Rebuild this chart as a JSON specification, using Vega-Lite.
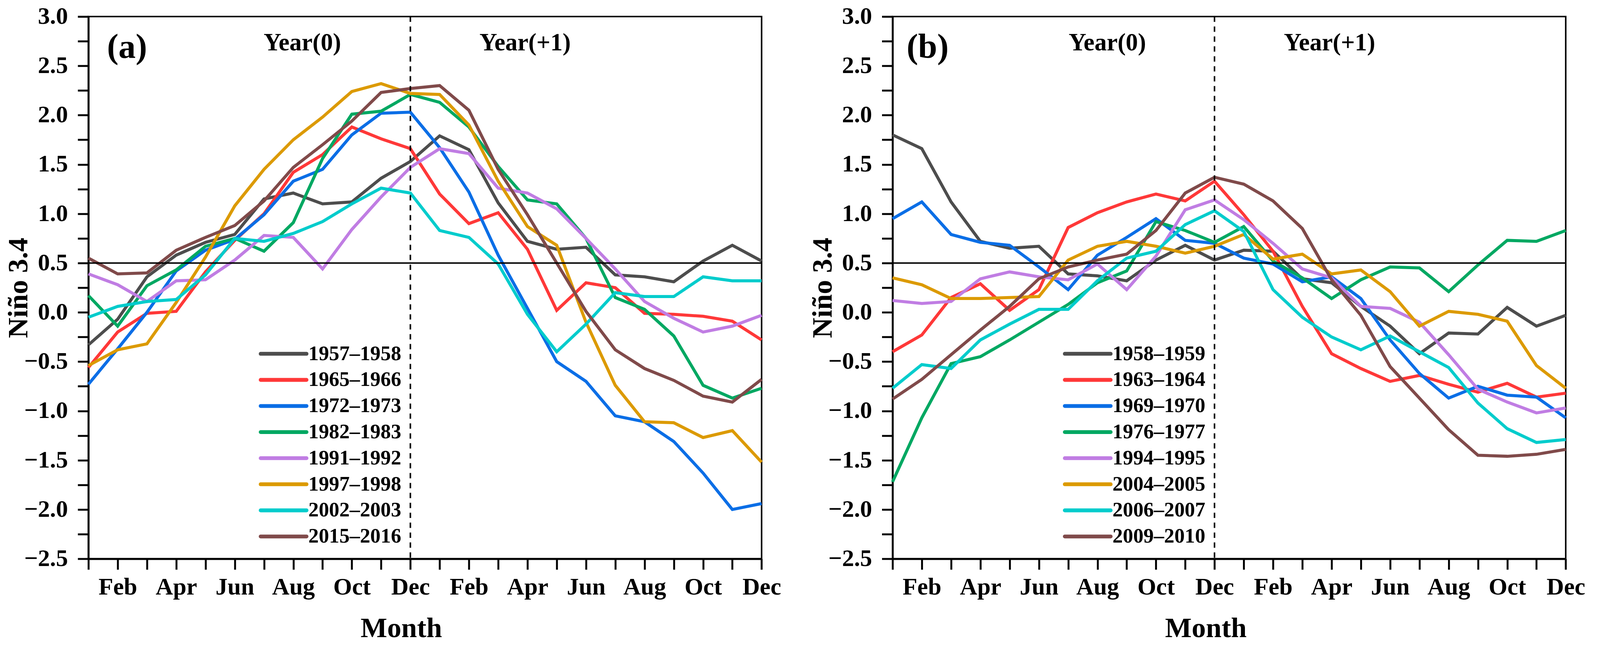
{
  "$schema": "https://vega.github.io/schema/vega-lite/v6.json",
  "background": "white",
  "autosize": {"type": "none"},
  "padding": {"left": 226.3, "top": 42.4, "right": 3866.7, "bottom": 1606.6},
  "spacing": 334.6,
  "bounds": "flush",
  "config": {
    "view": {"stroke": "black", "strokeWidth": 3.9},
    "font": "Liberation Serif",
    "axis": {
      "grid": false,
      "domainColor": "black", "domainWidth": 4.9,
      "tickColor": "black", "tickWidth": 4.9, "tickSize": 27.4,
      "labelFont": "Liberation Serif", "labelFontWeight": "bold", "labelFontSize": 61.6, "labelColor": "black",
      "labelOverlap": false, "labelFlush": false, "labelBound": false,
      "titleFont": "Liberation Serif", "titleFontWeight": "bold", "titleFontSize": 72.3, "titleColor": "black"
    }
  },
  "datasets": {
    "a": [
      {"period":"1957–1958","month":1,"nino":-0.33},{"period":"1957–1958","month":2,"nino":-0.07},{"period":"1957–1958","month":3,"nino":0.36},{"period":"1957–1958","month":4,"nino":0.58},{"period":"1957–1958","month":5,"nino":0.71},{"period":"1957–1958","month":6,"nino":0.79},{"period":"1957–1958","month":7,"nino":1.15},{"period":"1957–1958","month":8,"nino":1.21},{"period":"1957–1958","month":9,"nino":1.10},{"period":"1957–1958","month":10,"nino":1.12},{"period":"1957–1958","month":11,"nino":1.36},{"period":"1957–1958","month":12,"nino":1.53},{"period":"1957–1958","month":13,"nino":1.79},{"period":"1957–1958","month":14,"nino":1.65},{"period":"1957–1958","month":15,"nino":1.11},{"period":"1957–1958","month":16,"nino":0.72},{"period":"1957–1958","month":17,"nino":0.64},{"period":"1957–1958","month":18,"nino":0.66},{"period":"1957–1958","month":19,"nino":0.38},{"period":"1957–1958","month":20,"nino":0.36},{"period":"1957–1958","month":21,"nino":0.31},{"period":"1957–1958","month":22,"nino":0.52},{"period":"1957–1958","month":23,"nino":0.68},{"period":"1957–1958","month":24,"nino":0.52},
      {"period":"1965–1966","month":1,"nino":-0.56},{"period":"1965–1966","month":2,"nino":-0.20},{"period":"1965–1966","month":3,"nino":-0.01},{"period":"1965–1966","month":4,"nino":0.01},{"period":"1965–1966","month":5,"nino":0.41},{"period":"1965–1966","month":6,"nino":0.73},{"period":"1965–1966","month":7,"nino":1.00},{"period":"1965–1966","month":8,"nino":1.42},{"period":"1965–1966","month":9,"nino":1.60},{"period":"1965–1966","month":10,"nino":1.88},{"period":"1965–1966","month":11,"nino":1.76},{"period":"1965–1966","month":12,"nino":1.66},{"period":"1965–1966","month":13,"nino":1.20},{"period":"1965–1966","month":14,"nino":0.90},{"period":"1965–1966","month":15,"nino":1.01},{"period":"1965–1966","month":16,"nino":0.64},{"period":"1965–1966","month":17,"nino":0.02},{"period":"1965–1966","month":18,"nino":0.30},{"period":"1965–1966","month":19,"nino":0.25},{"period":"1965–1966","month":20,"nino":-0.01},{"period":"1965–1966","month":21,"nino":-0.02},{"period":"1965–1966","month":22,"nino":-0.04},{"period":"1965–1966","month":23,"nino":-0.09},{"period":"1965–1966","month":24,"nino":-0.28},
      {"period":"1972–1973","month":1,"nino":-0.73},{"period":"1972–1973","month":2,"nino":-0.37},{"period":"1972–1973","month":3,"nino":0.00},{"period":"1972–1973","month":4,"nino":0.42},{"period":"1972–1973","month":5,"nino":0.63},{"period":"1972–1973","month":6,"nino":0.74},{"period":"1972–1973","month":7,"nino":0.99},{"period":"1972–1973","month":8,"nino":1.33},{"period":"1972–1973","month":9,"nino":1.45},{"period":"1972–1973","month":10,"nino":1.80},{"period":"1972–1973","month":11,"nino":2.02},{"period":"1972–1973","month":12,"nino":2.03},{"period":"1972–1973","month":13,"nino":1.67},{"period":"1972–1973","month":14,"nino":1.22},{"period":"1972–1973","month":15,"nino":0.58},{"period":"1972–1973","month":16,"nino":0.04},{"period":"1972–1973","month":17,"nino":-0.50},{"period":"1972–1973","month":18,"nino":-0.70},{"period":"1972–1973","month":19,"nino":-1.05},{"period":"1972–1973","month":20,"nino":-1.11},{"period":"1972–1973","month":21,"nino":-1.31},{"period":"1972–1973","month":22,"nino":-1.63},{"period":"1972–1973","month":23,"nino":-2.00},{"period":"1972–1973","month":24,"nino":-1.94},
      {"period":"1982–1983","month":1,"nino":0.17},{"period":"1982–1983","month":2,"nino":-0.14},{"period":"1982–1983","month":3,"nino":0.27},{"period":"1982–1983","month":4,"nino":0.43},{"period":"1982–1983","month":5,"nino":0.67},{"period":"1982–1983","month":6,"nino":0.75},{"period":"1982–1983","month":7,"nino":0.62},{"period":"1982–1983","month":8,"nino":0.91},{"period":"1982–1983","month":9,"nino":1.56},{"period":"1982–1983","month":10,"nino":2.01},{"period":"1982–1983","month":11,"nino":2.04},{"period":"1982–1983","month":12,"nino":2.21},{"period":"1982–1983","month":13,"nino":2.13},{"period":"1982–1983","month":14,"nino":1.88},{"period":"1982–1983","month":15,"nino":1.48},{"period":"1982–1983","month":16,"nino":1.14},{"period":"1982–1983","month":17,"nino":1.10},{"period":"1982–1983","month":18,"nino":0.75},{"period":"1982–1983","month":19,"nino":0.15},{"period":"1982–1983","month":20,"nino":0.03},{"period":"1982–1983","month":21,"nino":-0.24},{"period":"1982–1983","month":22,"nino":-0.74},{"period":"1982–1983","month":23,"nino":-0.87},{"period":"1982–1983","month":24,"nino":-0.77},
      {"period":"1991–1992","month":1,"nino":0.39},{"period":"1991–1992","month":2,"nino":0.28},{"period":"1991–1992","month":3,"nino":0.11},{"period":"1991–1992","month":4,"nino":0.32},{"period":"1991–1992","month":5,"nino":0.33},{"period":"1991–1992","month":6,"nino":0.53},{"period":"1991–1992","month":7,"nino":0.78},{"period":"1991–1992","month":8,"nino":0.76},{"period":"1991–1992","month":9,"nino":0.44},{"period":"1991–1992","month":10,"nino":0.84},{"period":"1991–1992","month":11,"nino":1.17},{"period":"1991–1992","month":12,"nino":1.47},{"period":"1991–1992","month":13,"nino":1.66},{"period":"1991–1992","month":14,"nino":1.61},{"period":"1991–1992","month":15,"nino":1.26},{"period":"1991–1992","month":16,"nino":1.21},{"period":"1991–1992","month":17,"nino":1.05},{"period":"1991–1992","month":18,"nino":0.75},{"period":"1991–1992","month":19,"nino":0.44},{"period":"1991–1992","month":20,"nino":0.11},{"period":"1991–1992","month":21,"nino":-0.06},{"period":"1991–1992","month":22,"nino":-0.20},{"period":"1991–1992","month":23,"nino":-0.14},{"period":"1991–1992","month":24,"nino":-0.03},
      {"period":"1997–1998","month":1,"nino":-0.54},{"period":"1997–1998","month":2,"nino":-0.38},{"period":"1997–1998","month":3,"nino":-0.32},{"period":"1997–1998","month":4,"nino":0.10},{"period":"1997–1998","month":5,"nino":0.56},{"period":"1997–1998","month":6,"nino":1.08},{"period":"1997–1998","month":7,"nino":1.45},{"period":"1997–1998","month":8,"nino":1.75},{"period":"1997–1998","month":9,"nino":1.98},{"period":"1997–1998","month":10,"nino":2.24},{"period":"1997–1998","month":11,"nino":2.32},{"period":"1997–1998","month":12,"nino":2.22},{"period":"1997–1998","month":13,"nino":2.21},{"period":"1997–1998","month":14,"nino":1.90},{"period":"1997–1998","month":15,"nino":1.33},{"period":"1997–1998","month":16,"nino":0.87},{"period":"1997–1998","month":17,"nino":0.68},{"period":"1997–1998","month":18,"nino":-0.10},{"period":"1997–1998","month":19,"nino":-0.74},{"period":"1997–1998","month":20,"nino":-1.11},{"period":"1997–1998","month":21,"nino":-1.12},{"period":"1997–1998","month":22,"nino":-1.27},{"period":"1997–1998","month":23,"nino":-1.20},{"period":"1997–1998","month":24,"nino":-1.52},
      {"period":"2002–2003","month":1,"nino":-0.05},{"period":"2002–2003","month":2,"nino":0.06},{"period":"2002–2003","month":3,"nino":0.11},{"period":"2002–2003","month":4,"nino":0.13},{"period":"2002–2003","month":5,"nino":0.38},{"period":"2002–2003","month":6,"nino":0.75},{"period":"2002–2003","month":7,"nino":0.72},{"period":"2002–2003","month":8,"nino":0.80},{"period":"2002–2003","month":9,"nino":0.92},{"period":"2002–2003","month":10,"nino":1.10},{"period":"2002–2003","month":11,"nino":1.26},{"period":"2002–2003","month":12,"nino":1.21},{"period":"2002–2003","month":13,"nino":0.83},{"period":"2002–2003","month":14,"nino":0.76},{"period":"2002–2003","month":15,"nino":0.49},{"period":"2002–2003","month":16,"nino":-0.02},{"period":"2002–2003","month":17,"nino":-0.40},{"period":"2002–2003","month":18,"nino":-0.12},{"period":"2002–2003","month":19,"nino":0.20},{"period":"2002–2003","month":20,"nino":0.16},{"period":"2002–2003","month":21,"nino":0.16},{"period":"2002–2003","month":22,"nino":0.36},{"period":"2002–2003","month":23,"nino":0.32},{"period":"2002–2003","month":24,"nino":0.32},
      {"period":"2015–2016","month":1,"nino":0.55},{"period":"2015–2016","month":2,"nino":0.39},{"period":"2015–2016","month":3,"nino":0.40},{"period":"2015–2016","month":4,"nino":0.63},{"period":"2015–2016","month":5,"nino":0.76},{"period":"2015–2016","month":6,"nino":0.88},{"period":"2015–2016","month":7,"nino":1.13},{"period":"2015–2016","month":8,"nino":1.47},{"period":"2015–2016","month":9,"nino":1.70},{"period":"2015–2016","month":10,"nino":1.94},{"period":"2015–2016","month":11,"nino":2.23},{"period":"2015–2016","month":12,"nino":2.27},{"period":"2015–2016","month":13,"nino":2.30},{"period":"2015–2016","month":14,"nino":2.05},{"period":"2015–2016","month":15,"nino":1.45},{"period":"2015–2016","month":16,"nino":0.99},{"period":"2015–2016","month":17,"nino":0.50},{"period":"2015–2016","month":18,"nino":0.01},{"period":"2015–2016","month":19,"nino":-0.38},{"period":"2015–2016","month":20,"nino":-0.57},{"period":"2015–2016","month":21,"nino":-0.69},{"period":"2015–2016","month":22,"nino":-0.85},{"period":"2015–2016","month":23,"nino":-0.91},{"period":"2015–2016","month":24,"nino":-0.68}
    ],
    "b": [
      {"period":"1958–1959","month":1,"nino":1.80},{"period":"1958–1959","month":2,"nino":1.66},{"period":"1958–1959","month":3,"nino":1.12},{"period":"1958–1959","month":4,"nino":0.72},{"period":"1958–1959","month":5,"nino":0.65},{"period":"1958–1959","month":6,"nino":0.67},{"period":"1958–1959","month":7,"nino":0.39},{"period":"1958–1959","month":8,"nino":0.37},{"period":"1958–1959","month":9,"nino":0.32},{"period":"1958–1959","month":10,"nino":0.53},{"period":"1958–1959","month":11,"nino":0.68},{"period":"1958–1959","month":12,"nino":0.53},{"period":"1958–1959","month":13,"nino":0.63},{"period":"1958–1959","month":14,"nino":0.62},{"period":"1958–1959","month":15,"nino":0.34},{"period":"1958–1959","month":16,"nino":0.30},{"period":"1958–1959","month":17,"nino":0.06},{"period":"1958–1959","month":18,"nino":-0.14},{"period":"1958–1959","month":19,"nino":-0.42},{"period":"1958–1959","month":20,"nino":-0.21},{"period":"1958–1959","month":21,"nino":-0.22},{"period":"1958–1959","month":22,"nino":0.05},{"period":"1958–1959","month":23,"nino":-0.14},{"period":"1958–1959","month":24,"nino":-0.03},
      {"period":"1963–1964","month":1,"nino":-0.40},{"period":"1963–1964","month":2,"nino":-0.23},{"period":"1963–1964","month":3,"nino":0.15},{"period":"1963–1964","month":4,"nino":0.29},{"period":"1963–1964","month":5,"nino":0.02},{"period":"1963–1964","month":6,"nino":0.23},{"period":"1963–1964","month":7,"nino":0.86},{"period":"1963–1964","month":8,"nino":1.01},{"period":"1963–1964","month":9,"nino":1.12},{"period":"1963–1964","month":10,"nino":1.20},{"period":"1963–1964","month":11,"nino":1.13},{"period":"1963–1964","month":12,"nino":1.33},{"period":"1963–1964","month":13,"nino":0.99},{"period":"1963–1964","month":14,"nino":0.62},{"period":"1963–1964","month":15,"nino":0.06},{"period":"1963–1964","month":16,"nino":-0.42},{"period":"1963–1964","month":17,"nino":-0.57},{"period":"1963–1964","month":18,"nino":-0.70},{"period":"1963–1964","month":19,"nino":-0.64},{"period":"1963–1964","month":20,"nino":-0.73},{"period":"1963–1964","month":21,"nino":-0.81},{"period":"1963–1964","month":22,"nino":-0.72},{"period":"1963–1964","month":23,"nino":-0.86},{"period":"1963–1964","month":24,"nino":-0.82},
      {"period":"1969–1970","month":1,"nino":0.95},{"period":"1969–1970","month":2,"nino":1.12},{"period":"1969–1970","month":3,"nino":0.79},{"period":"1969–1970","month":4,"nino":0.71},{"period":"1969–1970","month":5,"nino":0.68},{"period":"1969–1970","month":6,"nino":0.46},{"period":"1969–1970","month":7,"nino":0.23},{"period":"1969–1970","month":8,"nino":0.58},{"period":"1969–1970","month":9,"nino":0.76},{"period":"1969–1970","month":10,"nino":0.95},{"period":"1969–1970","month":11,"nino":0.73},{"period":"1969–1970","month":12,"nino":0.70},{"period":"1969–1970","month":13,"nino":0.55},{"period":"1969–1970","month":14,"nino":0.49},{"period":"1969–1970","month":15,"nino":0.31},{"period":"1969–1970","month":16,"nino":0.36},{"period":"1969–1970","month":17,"nino":0.14},{"period":"1969–1970","month":18,"nino":-0.28},{"period":"1969–1970","month":19,"nino":-0.62},{"period":"1969–1970","month":20,"nino":-0.87},{"period":"1969–1970","month":21,"nino":-0.75},{"period":"1969–1970","month":22,"nino":-0.84},{"period":"1969–1970","month":23,"nino":-0.86},{"period":"1969–1970","month":24,"nino":-1.07},
      {"period":"1976–1977","month":1,"nino":-1.72},{"period":"1976–1977","month":2,"nino":-1.07},{"period":"1976–1977","month":3,"nino":-0.52},{"period":"1976–1977","month":4,"nino":-0.45},{"period":"1976–1977","month":5,"nino":-0.28},{"period":"1976–1977","month":6,"nino":-0.10},{"period":"1976–1977","month":7,"nino":0.08},{"period":"1976–1977","month":8,"nino":0.30},{"period":"1976–1977","month":9,"nino":0.42},{"period":"1976–1977","month":10,"nino":0.92},{"period":"1976–1977","month":11,"nino":0.83},{"period":"1976–1977","month":12,"nino":0.71},{"period":"1976–1977","month":13,"nino":0.87},{"period":"1976–1977","month":14,"nino":0.52},{"period":"1976–1977","month":15,"nino":0.35},{"period":"1976–1977","month":16,"nino":0.14},{"period":"1976–1977","month":17,"nino":0.33},{"period":"1976–1977","month":18,"nino":0.46},{"period":"1976–1977","month":19,"nino":0.45},{"period":"1976–1977","month":20,"nino":0.21},{"period":"1976–1977","month":21,"nino":0.48},{"period":"1976–1977","month":22,"nino":0.73},{"period":"1976–1977","month":23,"nino":0.72},{"period":"1976–1977","month":24,"nino":0.83},
      {"period":"1994–1995","month":1,"nino":0.12},{"period":"1994–1995","month":2,"nino":0.09},{"period":"1994–1995","month":3,"nino":0.11},{"period":"1994–1995","month":4,"nino":0.34},{"period":"1994–1995","month":5,"nino":0.41},{"period":"1994–1995","month":6,"nino":0.36},{"period":"1994–1995","month":7,"nino":0.33},{"period":"1994–1995","month":8,"nino":0.49},{"period":"1994–1995","month":9,"nino":0.23},{"period":"1994–1995","month":10,"nino":0.57},{"period":"1994–1995","month":11,"nino":1.04},{"period":"1994–1995","month":12,"nino":1.14},{"period":"1994–1995","month":13,"nino":0.94},{"period":"1994–1995","month":14,"nino":0.70},{"period":"1994–1995","month":15,"nino":0.44},{"period":"1994–1995","month":16,"nino":0.35},{"period":"1994–1995","month":17,"nino":0.06},{"period":"1994–1995","month":18,"nino":0.04},{"period":"1994–1995","month":19,"nino":-0.10},{"period":"1994–1995","month":20,"nino":-0.43},{"period":"1994–1995","month":21,"nino":-0.78},{"period":"1994–1995","month":22,"nino":-0.91},{"period":"1994–1995","month":23,"nino":-1.02},{"period":"1994–1995","month":24,"nino":-0.97},
      {"period":"2004–2005","month":1,"nino":0.35},{"period":"2004–2005","month":2,"nino":0.28},{"period":"2004–2005","month":3,"nino":0.14},{"period":"2004–2005","month":4,"nino":0.14},{"period":"2004–2005","month":5,"nino":0.15},{"period":"2004–2005","month":6,"nino":0.16},{"period":"2004–2005","month":7,"nino":0.53},{"period":"2004–2005","month":8,"nino":0.67},{"period":"2004–2005","month":9,"nino":0.72},{"period":"2004–2005","month":10,"nino":0.67},{"period":"2004–2005","month":11,"nino":0.60},{"period":"2004–2005","month":12,"nino":0.67},{"period":"2004–2005","month":13,"nino":0.79},{"period":"2004–2005","month":14,"nino":0.54},{"period":"2004–2005","month":15,"nino":0.59},{"period":"2004–2005","month":16,"nino":0.39},{"period":"2004–2005","month":17,"nino":0.43},{"period":"2004–2005","month":18,"nino":0.21},{"period":"2004–2005","month":19,"nino":-0.14},{"period":"2004–2005","month":20,"nino":0.01},{"period":"2004–2005","month":21,"nino":-0.02},{"period":"2004–2005","month":22,"nino":-0.09},{"period":"2004–2005","month":23,"nino":-0.54},{"period":"2004–2005","month":24,"nino":-0.77},
      {"period":"2006–2007","month":1,"nino":-0.77},{"period":"2006–2007","month":2,"nino":-0.53},{"period":"2006–2007","month":3,"nino":-0.57},{"period":"2006–2007","month":4,"nino":-0.28},{"period":"2006–2007","month":5,"nino":-0.12},{"period":"2006–2007","month":6,"nino":0.03},{"period":"2006–2007","month":7,"nino":0.03},{"period":"2006–2007","month":8,"nino":0.32},{"period":"2006–2007","month":9,"nino":0.55},{"period":"2006–2007","month":10,"nino":0.62},{"period":"2006–2007","month":11,"nino":0.89},{"period":"2006–2007","month":12,"nino":1.03},{"period":"2006–2007","month":13,"nino":0.82},{"period":"2006–2007","month":14,"nino":0.23},{"period":"2006–2007","month":15,"nino":-0.05},{"period":"2006–2007","month":16,"nino":-0.25},{"period":"2006–2007","month":17,"nino":-0.38},{"period":"2006–2007","month":18,"nino":-0.24},{"period":"2006–2007","month":19,"nino":-0.40},{"period":"2006–2007","month":20,"nino":-0.56},{"period":"2006–2007","month":21,"nino":-0.92},{"period":"2006–2007","month":22,"nino":-1.18},{"period":"2006–2007","month":23,"nino":-1.32},{"period":"2006–2007","month":24,"nino":-1.29},
      {"period":"2009–2010","month":1,"nino":-0.88},{"period":"2009–2010","month":2,"nino":-0.68},{"period":"2009–2010","month":3,"nino":-0.43},{"period":"2009–2010","month":4,"nino":-0.18},{"period":"2009–2010","month":5,"nino":0.06},{"period":"2009–2010","month":6,"nino":0.34},{"period":"2009–2010","month":7,"nino":0.46},{"period":"2009–2010","month":8,"nino":0.53},{"period":"2009–2010","month":9,"nino":0.59},{"period":"2009–2010","month":10,"nino":0.83},{"period":"2009–2010","month":11,"nino":1.21},{"period":"2009–2010","month":12,"nino":1.37},{"period":"2009–2010","month":13,"nino":1.30},{"period":"2009–2010","month":14,"nino":1.13},{"period":"2009–2010","month":15,"nino":0.85},{"period":"2009–2010","month":16,"nino":0.33},{"period":"2009–2010","month":17,"nino":-0.03},{"period":"2009–2010","month":18,"nino":-0.55},{"period":"2009–2010","month":19,"nino":-0.87},{"period":"2009–2010","month":20,"nino":-1.19},{"period":"2009–2010","month":21,"nino":-1.45},{"period":"2009–2010","month":22,"nino":-1.46},{"period":"2009–2010","month":23,"nino":-1.44},{"period":"2009–2010","month":24,"nino":-1.39}
    ]
  },
  "hconcat": [
    {
      "width": 1723.4, "height": 1388.1,
      "layer": [
        {
          "data": {"name": "a"},
          "mark": {"type": "line", "strokeWidth": 7.8},
          "encoding": {
            "x": {"field": "month", "type": "quantitative",
              "scale": {"domain": [1, 24], "nice": false, "zero": false},
              "axis": {"title": "Month", "values": [1,2,3,4,5,6,7,8,9,10,11,12,13,14,15,16,17,18,19,20,21,22,23,24],
                "labelExpr": "datum.value % 2 === 0 ? ['Dec','Feb','Apr','Jun','Aug','Oct'][(datum.value / 2) % 6] : ''",
                "labelPadding": 14.7, "titleX": 800.6, "titleY": 200.4, "titleBaseline": "alphabetic", "titleAnchor": "start", "titleAlign": "center",
                "encode": {"ticks": {"update": {"y2": {"signal": "datum.value % 2 === 0 ? 27.4 : 14.7"}}}}}},
            "y": {"field": "nino", "type": "quantitative",
              "scale": {"domain": [-2.5, 3], "nice": false, "zero": false},
              "axis": {"title": "Niño 3.4", "values": [-2.5,-2.25,-2,-1.75,-1.5,-1.25,-1,-0.75,-0.5,-0.25,0,0.25,0.5,0.75,1,1.25,1.5,1.75,2,2.25,2.5,2.75,3],
                "labelExpr": "datum.value % 0.5 === 0 ? format(datum.value, '.1f') : ''",
                "labelPadding": 25.4, "titleX": -156.4, "titleBaseline": "alphabetic", "titleAngle": 270,
                "encode": {"ticks": {"update": {"x2": {"signal": "datum.value % 0.5 === 0 ? -27.4 : -13.7"}}}}}},
            "color": {"field": "period", "type": "nominal",
              "scale": {"domain": ["1957–1958","1965–1966","1972–1973","1982–1983","1991–1992","1997–1998","2002–2003","2015–2016"],
                "range": ["#4d4d4d","#ff3838","#0a6ee6","#00a862","#c07de3","#dc9a00","#00cccc","#804a4a"]},
              "legend": {"title": null, "orient": "none", "legendX": 436, "legendY": 833.8, "padding": 0,
                "symbolType": "M-2.4,0H2.4", "symbolSize": 2389, "symbolStrokeWidth": 9.8,
                "symbolOffset": 34.2, "labelOffset": 34, "rowPadding": 9.8, "labelLimit": 600,
                "labelFont": "Liberation Serif", "labelFontWeight": "bold", "labelFontSize": 52.8, "labelColor": "black",
                "encode": {"symbols": {"update": {"strokeCap": {"value": "round"}}}}}}
          }
        },
        {"data": {"values": [{}]}, "mark": {"type": "rule", "color": "black", "strokeWidth": 3.9}, "encoding": {"y": {"datum": 0.5}}},
        {"data": {"values": [{}]}, "mark": {"type": "rule", "color": "black", "strokeWidth": 3.9, "strokeDash": [13.7, 11.7]}, "encoding": {"x": {"datum": 12}}},
        {"data": {"values": [{}]}, "mark": {"type": "text", "text": "(a)", "font": "Liberation Serif", "fontWeight": "bold", "fontSize": 88, "align": "center", "baseline": "alphabetic", "color": "black"}, "encoding": {"x": {"datum": 2.32}, "y": {"datum": 2.58}}},
        {"data": {"values": [{}]}, "mark": {"type": "text", "text": "Year(0)", "font": "Liberation Serif", "fontWeight": "bold", "fontSize": 62.6, "align": "center", "baseline": "alphabetic", "color": "black"}, "encoding": {"x": {"datum": 8.31}, "y": {"datum": 2.657}}},
        {"data": {"values": [{}]}, "mark": {"type": "text", "text": "Year(+1)", "font": "Liberation Serif", "fontWeight": "bold", "fontSize": 62.6, "align": "center", "baseline": "alphabetic", "color": "black"}, "encoding": {"x": {"datum": 15.92}, "y": {"datum": 2.657}}}
      ]
    },
    {
      "width": 1723.4, "height": 1388.1,
      "layer": [
        {
          "data": {"name": "b"},
          "mark": {"type": "line", "strokeWidth": 7.8},
          "encoding": {
            "x": {"field": "month", "type": "quantitative",
              "scale": {"domain": [1, 24], "nice": false, "zero": false},
              "axis": {"title": "Month", "values": [1,2,3,4,5,6,7,8,9,10,11,12,13,14,15,16,17,18,19,20,21,22,23,24],
                "labelExpr": "datum.value % 2 === 0 ? ['Dec','Feb','Apr','Jun','Aug','Oct'][(datum.value / 2) % 6] : ''",
                "labelPadding": 14.7, "titleX": 801.6, "titleY": 200.4, "titleBaseline": "alphabetic", "titleAnchor": "start", "titleAlign": "center",
                "encode": {"ticks": {"update": {"y2": {"signal": "datum.value % 2 === 0 ? 27.4 : 14.7"}}}}}},
            "y": {"field": "nino", "type": "quantitative",
              "scale": {"domain": [-2.5, 3], "nice": false, "zero": false},
              "axis": {"title": "Niño 3.4", "values": [-2.5,-2.25,-2,-1.75,-1.5,-1.25,-1,-0.75,-0.5,-0.25,0,0.25,0.5,0.75,1,1.25,1.5,1.75,2,2.25,2.5,2.75,3],
                "labelExpr": "datum.value % 0.5 === 0 ? format(datum.value, '.1f') : ''",
                "labelPadding": 25.4, "titleX": -156.4, "titleBaseline": "alphabetic", "titleAngle": 270,
                "encode": {"ticks": {"update": {"x2": {"signal": "datum.value % 0.5 === 0 ? -27.4 : -13.7"}}}}}},
            "color": {"field": "period", "type": "nominal",
              "scale": {"domain": ["1958–1959","1963–1964","1969–1970","1976–1977","1994–1995","2004–2005","2006–2007","2009–2010"],
                "range": ["#4d4d4d","#ff3838","#0a6ee6","#00a862","#c07de3","#dc9a00","#00cccc","#804a4a"]},
              "legend": {"title": null, "orient": "none", "legendX": 436, "legendY": 833.8, "padding": 0,
                "symbolType": "M-2.4,0H2.4", "symbolSize": 2389, "symbolStrokeWidth": 9.8,
                "symbolOffset": 34.2, "labelOffset": 34, "rowPadding": 9.8, "labelLimit": 600,
                "labelFont": "Liberation Serif", "labelFontWeight": "bold", "labelFontSize": 52.8, "labelColor": "black",
                "encode": {"symbols": {"update": {"strokeCap": {"value": "round"}}}}}}
          }
        },
        {"data": {"values": [{}]}, "mark": {"type": "rule", "color": "black", "strokeWidth": 3.9}, "encoding": {"y": {"datum": 0.5}}},
        {"data": {"values": [{}]}, "mark": {"type": "rule", "color": "black", "strokeWidth": 3.9, "strokeDash": [13.7, 11.7]}, "encoding": {"x": {"datum": 12}}},
        {"data": {"values": [{}]}, "mark": {"type": "text", "text": "(b)", "font": "Liberation Serif", "fontWeight": "bold", "fontSize": 88, "align": "center", "baseline": "alphabetic", "color": "black"}, "encoding": {"x": {"datum": 2.2}, "y": {"datum": 2.58}}},
        {"data": {"values": [{}]}, "mark": {"type": "text", "text": "Year(0)", "font": "Liberation Serif", "fontWeight": "bold", "fontSize": 62.6, "align": "center", "baseline": "alphabetic", "color": "black"}, "encoding": {"x": {"datum": 8.34}, "y": {"datum": 2.657}}},
        {"data": {"values": [{}]}, "mark": {"type": "text", "text": "Year(+1)", "font": "Liberation Serif", "fontWeight": "bold", "fontSize": 62.6, "align": "center", "baseline": "alphabetic", "color": "black"}, "encoding": {"x": {"datum": 15.93}, "y": {"datum": 2.657}}}
      ]
    }
  ],
  "resolve": {"scale": {"color": "independent"}}
}
